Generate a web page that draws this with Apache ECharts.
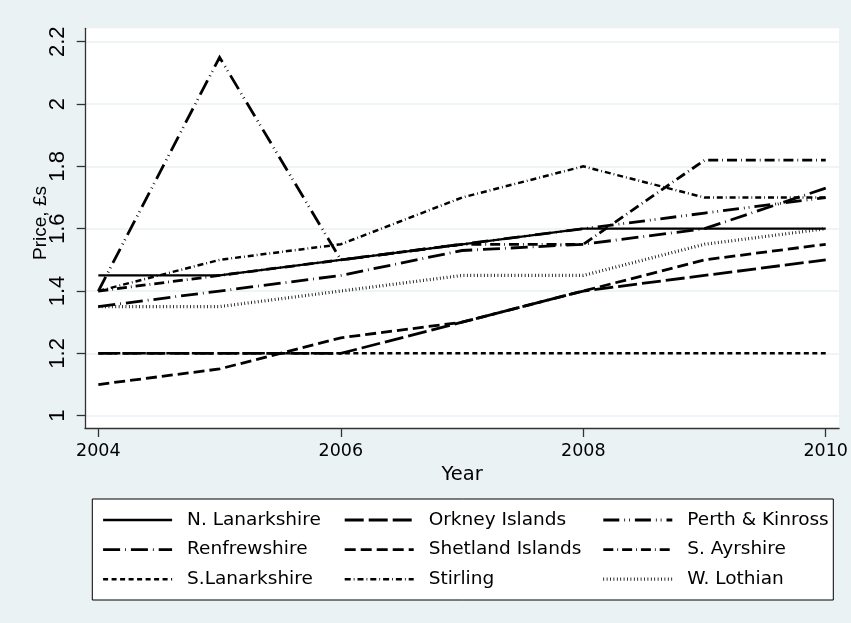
<!DOCTYPE html>
<html>
<head>
<meta charset="utf-8">
<script src="https://cdn.jsdelivr.net/npm/echarts@6/dist/echarts.min.js"></script>
<style>
  html, body { margin: 0; padding: 0; background: #EAF2F3; }
  #chart { width: 851px; height: 623px; }
</style>
</head>
<body>
<div id="chart"></div>
<script>
// Average price by council area, 2004-2010 (£)
const years = [2004, 2005, 2006, 2007, 2008, 2009, 2010];

const nLanarkshire = [1.45, 1.45, 1.50, 1.55, 1.60, 1.60, 1.60];
const orkneyIslands = [1.20, 1.20, 1.20, 1.30, 1.40, 1.45, 1.50];
const perthKinross = [1.40, 2.15, 1.50, 1.55, 1.60, 1.65, 1.70];
const renfrewshire = [1.35, 1.40, 1.45, 1.53, 1.55, 1.60, 1.73];
const shetlandIslands = [1.10, 1.15, 1.25, 1.30, 1.40, 1.50, 1.55];
const sAyrshire = [1.40, 1.45, 1.50, 1.55, 1.55, 1.82, 1.82];
const sLanarkshire = [1.20, 1.20, 1.20, 1.20, 1.20, 1.20, 1.20];
const stirling = [1.40, 1.50, 1.55, 1.70, 1.80, 1.70, 1.70];
const wLothian = [1.35, 1.35, 1.40, 1.45, 1.45, 1.55, 1.60];

const xTicks = [2004, 2006, 2008, 2010];
const yTicks = [1, 1.2, 1.4, 1.6, 1.8, 2, 2.2];

const legendCols = [
  ['N. Lanarkshire', 'Renfrewshire', 'S.Lanarkshire'],
  ['Orkney Islands', 'Shetland Islands', 'Stirling'],
  ['Perth & Kinross', 'S. Ayrshire', 'W. Lothian']
];

const pair = (vals) => years.map((y, i) => [y, vals[i]]);

// name, values, width, dash pattern
const lines = [
  ['N. Lanarkshire', nLanarkshire, 2.3, 'solid'],
  ['Orkney Islands', orkneyIslands, 2.8, [19, 5]],
  ['Perth & Kinross', perthKinross, 2.8, [16, 5, 0.8, 4, 0.8, 5]],
  ['Renfrewshire', renfrewshire, 2.8, [17, 5, 0.8, 5]],
  ['Shetland Islands', shetlandIslands, 2.8, [11, 5]],
  ['S. Ayrshire', sAyrshire, 2.8, [10, 4, 0.8, 4]],
  ['S.Lanarkshire', sLanarkshire, 2.5, [5, 3.5]],
  ['Stirling', stirling, 2.5, [6, 3, 0.8, 3]],
  ['W. Lothian', wLothian, 3.2, [0.8, 2.6]]
];

const series = [{
  type: 'line',
  name: '_grid',
  data: [],
  silent: true,
  z: 0,
  markLine: {
    silent: true,
    z: 0,
    symbol: ['none', 'none'],
    label: { show: false },
    lineStyle: { color: '#EAF2F3', width: 1.5, type: 'solid' },
    data: yTicks.map(v => ({ yAxis: v }))
  }
}].concat(lines.map(([name, vals, w, dash]) => ({
  type: 'line',
  name: name,
  data: pair(vals),
  symbol: 'none',
  showSymbol: false,
  itemStyle: { color: '#000' },
  lineStyle: { color: '#000', width: w, type: dash, cap: 'butt', join: 'miter' },
  z: 3
})));

const legendBase = {
  orient: 'vertical',
  padding: 0,
  itemWidth: 69,
  itemHeight: 20,
  itemGap: 9.6,
  selectedMode: false,
  z: 10,
  itemStyle: { opacity: 0, borderWidth: 0 },
  lineStyle: { width: 'inherit', type: 'inherit', opacity: 1 },
  textStyle: {
    fontFamily: '"DejaVu Sans"',
    fontSize: 18.5,
    color: '#000',
    lineHeight: 20,
    padding: [0, 0, 0, 10]
  }
};
const legendLeft = [101.7, 343.3, 601.7];

const chart = echarts.init(document.getElementById('chart'), null, { renderer: 'canvas' });
chart.setOption({
  animation: false,
  backgroundColor: '#EAF2F3',
  grid: {
    left: 85, right: 10.3, top: 28.3, bottom: 195,
    show: true, backgroundColor: '#ffffff', borderWidth: 0
  },
  xAxis: {
    type: 'value',
    min: 2003.89, max: 2010.11,
    name: 'Year',
    nameLocation: 'middle',
    nameGap: 36,
    nameTextStyle: { fontFamily: '"DejaVu Sans"', fontSize: 19.5, color: '#000' },
    axisLine: { show: true, lineStyle: { color: '#333', width: 1.3 } },
    axisTick: { show: true, length: 9, customValues: xTicks, lineStyle: { color: '#333', width: 1.3 } },
    axisLabel: {
      customValues: xTicks,
      formatter: v => String(v),
      margin: 14,
      fontFamily: '"DejaVu Sans"', fontSize: 17.5, color: '#000'
    },
    splitLine: { show: false }
  },
  yAxis: {
    type: 'value',
    min: 0.9605, max: 2.243,
    axisLine: { show: true, lineStyle: { color: '#333', width: 1.3 } },
    axisTick: { show: true, length: 8.3, customValues: yTicks, lineStyle: { color: '#333', width: 1.3 } },
    axisLabel: {
      customValues: yTicks,
      formatter: v => String(v),
      rotate: 90,
      margin: 16.5,
      fontFamily: '"Liberation Sans", sans-serif',
      fontSize: 22, color: '#000'
    },
    splitLine: { show: false }
  },
  legend: legendCols.map((col, i) => Object.assign({}, legendBase, {
    data: col, left: legendLeft[i], top: 510
  })),
  graphic: {
    elements: [
      {
        type: 'rect', z: 0,
        shape: { x: 92.3, y: 499, width: 741, height: 101 },
        style: { fill: '#ffffff', stroke: '#000000', lineWidth: 1 }
      },
      {
        type: 'text', z: 5,
        x: 41, y: 223, rotation: Math.PI / 2,
        style: {
          text: 'Price, £s',
          font: '19px "Liberation Sans"',
          fill: '#000', align: 'center', verticalAlign: 'middle'
        }
      }
    ]
  },
  series: series
});
</script>
</body>
</html>
